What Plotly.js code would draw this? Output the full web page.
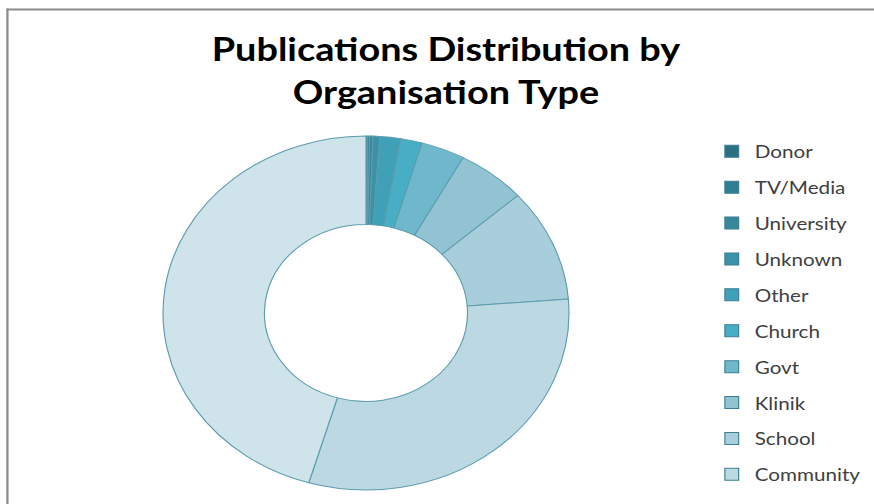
<!DOCTYPE html>
<html>
<head>
<meta charset="utf-8">
<script src="https://cdn.plot.ly/plotly-3.0.1.min.js"></script>
<style>
  html, body { margin: 0; padding: 0; background: #ffffff; overflow: hidden; }
  #wrap { width: 874px; height: 504px; overflow: hidden; }
  /* the original chart is horizontally stretched: draw at 762px and stretch to 874px */
  #chart { width: 762px; height: 504px; transform: scaleX(1.147); transform-origin: 0 0; }
</style>
</head>
<body>
<div id="wrap"><div id="chart"></div></div>
<script>
// ---- data (share of publications, %) ----
const categories = ["Donor", "TV/Media", "University", "Unknown", "Other", "Church", "Govt", "Klinik", "School", "Community", "(not in legend)"];
const shares     = [0.15, 0.15, 0.25, 0.55, 1.65, 1.7, 3.5, 5.5, 10.3, 30.8, 45.45];
const sliceColors = ["#2b7183", "#2e7d91", "#358799", "#3b92a7", "#3fa0b7", "#48aec6", "#6fb8cc", "#91c3d3", "#a9cedb", "#bcd8e3", "#cfe3ea"];
const legendLabels = categories.slice(0, 10);
const titleText = "Publications Distribution by<br>Organisation Type";

const pie = {
  type: "pie",
  labels: categories,
  values: shares,
  sort: false,
  direction: "clockwise",
  rotation: 0,
  hole: 0.5,
  textinfo: "none",
  hoverinfo: "label+percent",
  showlegend: false,
  marker: { colors: sliceColors, line: { color: "#5c9cad", width: 1 } },
  domain: { x: [0.1865, 0.651], y: [0.0278, 0.7302] }
};

// legend entries (the reference legend shows the first ten categories)
const legendTraces = legendLabels.map((name, i) => ({
  type: "scatter",
  mode: "markers",
  x: [null], y: [null],
  name: name,
  legendgroup: "g" + i,
  showlegend: true,
  hoverinfo: "skip",
  marker: { symbol: "square", size: 12, color: sliceColors[i], line: { color: "#3b7f90", width: 1 } }
}));

const layout = {
  width: 762,
  height: 504,
  margin: { l: 0, r: 0, t: 0, b: 0 },
  paper_bgcolor: "#ffffff",
  plot_bgcolor: "#ffffff",
  title: {
    text: titleText,
    font: { family: "Lato, 'Open Sans', sans-serif", size: 33, color: "#000000", weight: "bold" },
    x: 0.5103, xanchor: "center",
    y: 0.879, yanchor: "top", yref: "container"
  },
  xaxis: { visible: false },
  yaxis: { visible: false },
  showlegend: true,
  legend: {
    x: 0.811, xanchor: "left",
    y: 0.736, yanchor: "top",
    traceorder: "grouped",
    tracegroupgap: 9.5,
    font: { family: "Lato, 'Open Sans', sans-serif", size: 18, color: "#404040" },
    bgcolor: "rgba(0,0,0,0)"
  },
  shapes: [
    { type: "line", xref: "paper", yref: "paper", x0: 0.0075, x1: 1.05, y0: 0.9812, y1: 0.9812, line: { color: "#8c8c8c", width: 2 } },
    { type: "line", xref: "paper", yref: "paper", x0: 0.0085, x1: 0.0085, y0: -0.05, y1: 0.9832, line: { color: "#8c8c8c", width: 2 } }
  ],
  hovermode: "closest"
};

Plotly.newPlot("chart", [pie].concat(legendTraces), layout, { displayModeBar: false });
</script>
</body>
</html>
